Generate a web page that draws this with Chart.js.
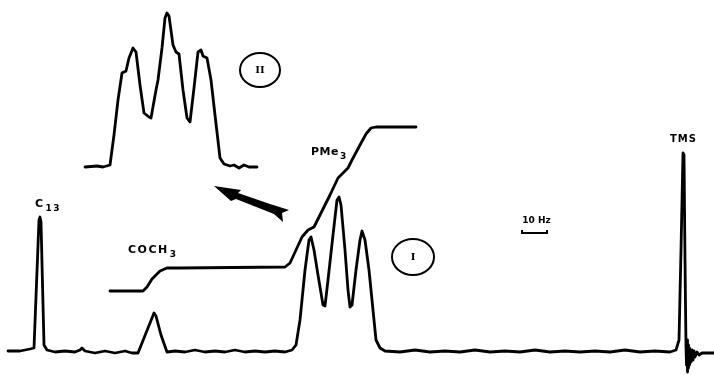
<!DOCTYPE html>
<html>
<head>
<meta charset="utf-8">
<script src="https://cdn.jsdelivr.net/npm/chart.js@4/dist/chart.umd.min.js"></script>
<style>
  html, body { margin: 0; padding: 0; background: #fff; }
  #wrap { width: 714px; height: 375px; }
</style>
</head>
<body>
<div id="wrap"><canvas id="nmr" width="714" height="375"></canvas></div>
<script>
// 1H NMR trace: x = sweep position (chart units), y = signal height above baseline
const specX = [8,20,30,34,39,40,41,44,47,55,65,75,80,82,85,95,105,115,125,132,138,146,154,156,161,167,175,185,195,205,215,225,235,245,255,265,275,285,
  292,296,300,305,309,311,314,318,323,325,328,333,337,339,341,345,348,350,352,356,360,362,365,369,373,376,380,385,
  400,415,430,445,460,475,490,505,520,535,550,565,580,595,610,625,640,655,670,676,679,681,683,684,685,686,
  686.5,687,687.5,688,688.5,689,689.5,690,691,692,693,694,695,697,699,702,714];
const specY = [1,1,3,4,132,135,130,7,2,0,1,0,2,4,1,-1,1,-1,1,-1,-1,19,39,36,17,0,1,0,2,0,1,0,2,0,1,0,1,0,
  2,7,32,82,112,115,102,77,47,46,72,117,152,155,147,102,62,45,47,82,112,121,112,82,42,12,4,1,
  0,2,0,1,0,2,0,1,0,2,0,1,0,1,0,2,0,1,0,2,12,102,199,197,92,5,
  -13,12,-20,7,-16,4,-13,2,-10,2,-8,1,-5,0,-3,-1,-1];

// integral curve
const intX = [110,143,147,152,160,167,180,285,290,296,302,308,314,320,330,338,344,348,352,360,366,371,376,416];
const intY = [61,61,65,73,81,84,84,85,89,102,115,122,125,137,157,174,180,184,192,207,218,224,225,225];

// expanded PMe3 multiplet (II)
const insetX = [85,97,103,110,114,118,122,126,129,133,136,140,144,149,151,156,158,162,165,167,169,173,176,179,183,187,190,194,198,201,203,207,211,215,220,224,230,234,239,244,249,257];
const insetY = [185,186,185,187,217,252,279,281,294,304,300,267,239,235,234,262,272,304,334,339,336,307,300,298,262,234,230,264,300,302,296,294,272,237,194,188,186,187,184,187,185,185];

// peak labels: [text, subscript, x, y, size, spacing]
const labels = [
  ["C", "13", 35, 145, 11, 1.5],
  ["COCH", "3", 128, 99, 11, 1.5],
  ["PMe", "3", 311, 197, 11, 0.5],
  ["TMS", "", 670, 210, 10, 1]
];
// spectrum designations in circles: [text, x, y, rx, ry]
const circles = [
  ["II", 260, 282, 20, 17],
  ["I", 413, 95, 21, 18]
];
// scale bar
const scaleBar = { text: "10 Hz", x0: 522, x1: 547, y: 119 };
// arrow from multiplet to expansion (outline)
const arrowX = [214,241,238,270,289,282,283,274,236,231];
const arrowY = [166,162,159,148,142,139,130,138,153,151];

const toPts = (xs, ys) => xs.map((x, i) => ({ x: x, y: ys[i] }));

const annotate = {
  id: 'annotate',
  afterDatasetsDraw(chart) {
    const { ctx, scales } = chart;
    const px = v => scales.x.getPixelForValue(v);
    const py = v => scales.y.getPixelForValue(v);
    ctx.save();
    ctx.fillStyle = '#000';
    ctx.strokeStyle = '#000';
    ctx.textBaseline = 'alphabetic';
    // labels with subscripts
    labels.forEach(([t, sub, x, y, size, sp]) => {
      ctx.font = `bold ${size}px "DejaVu Sans", sans-serif`;
      ctx.letterSpacing = sp + 'px';
      ctx.textAlign = 'left';
      ctx.fillText(t, px(x), py(y));
      const w = ctx.measureText(t).width;
      if (sub) {
        ctx.font = `bold 9px "DejaVu Sans", sans-serif`;
        ctx.fillText(sub, px(x) + w + 1, py(y) + 4);
      }
    });
    ctx.letterSpacing = '0px';
    // circles
    ctx.lineWidth = 2;
    circles.forEach(([t, x, y, rx, ry]) => {
      ctx.beginPath();
      ctx.ellipse(px(x), py(y), rx, ry, 0, 0, Math.PI * 2);
      ctx.stroke();
      ctx.font = 'bold 10px "DejaVu Serif", serif';
      ctx.textAlign = 'center';
      ctx.textBaseline = 'middle';
      ctx.fillText(t, px(x), py(y));
    });
    // scale bar
    ctx.textBaseline = 'alphabetic';
    ctx.font = 'bold 9px "DejaVu Sans", sans-serif';
    ctx.textAlign = 'center';
    ctx.fillText(scaleBar.text, (px(scaleBar.x0) + px(scaleBar.x1)) / 2 + 2, py(scaleBar.y) - 10);
    ctx.lineWidth = 2;
    ctx.beginPath();
    ctx.moveTo(px(scaleBar.x0), py(scaleBar.y) - 3);
    ctx.lineTo(px(scaleBar.x0), py(scaleBar.y));
    ctx.lineTo(px(scaleBar.x1), py(scaleBar.y));
    ctx.lineTo(px(scaleBar.x1), py(scaleBar.y) - 3);
    ctx.stroke();
    // arrow
    ctx.beginPath();
    arrowX.forEach((x, i) => {
      if (i === 0) ctx.moveTo(px(x), py(arrowY[i]));
      else ctx.lineTo(px(x), py(arrowY[i]));
    });
    ctx.closePath();
    ctx.fill();
    ctx.restore();
  }
};

const lineStyle = {
  borderColor: '#000',
  borderWidth: 2.8,
  pointRadius: 0,
  tension: 0,
  fill: false,
  borderJoinStyle: 'round',
  borderCapStyle: 'round'
};

new Chart(document.getElementById('nmr'), {
  type: 'line',
  data: {
    datasets: [
      Object.assign({ label: 'spectrum', data: toPts(specX, specY) }, lineStyle),
      Object.assign({ label: 'integral', data: toPts(intX, intY) }, lineStyle),
      Object.assign({ label: 'expansion', data: toPts(insetX, insetY) }, lineStyle)
    ]
  },
  options: {
    responsive: false,
    animation: false,
    devicePixelRatio: 1,
    layout: { padding: 0 },
    plugins: { legend: { display: false }, tooltip: { enabled: false } },
    scales: {
      x: { type: 'linear', min: 0, max: 714, display: false },
      y: { type: 'linear', min: -23, max: 352, display: false }
    }
  },
  plugins: [annotate]
});
</script>
</body>
</html>
